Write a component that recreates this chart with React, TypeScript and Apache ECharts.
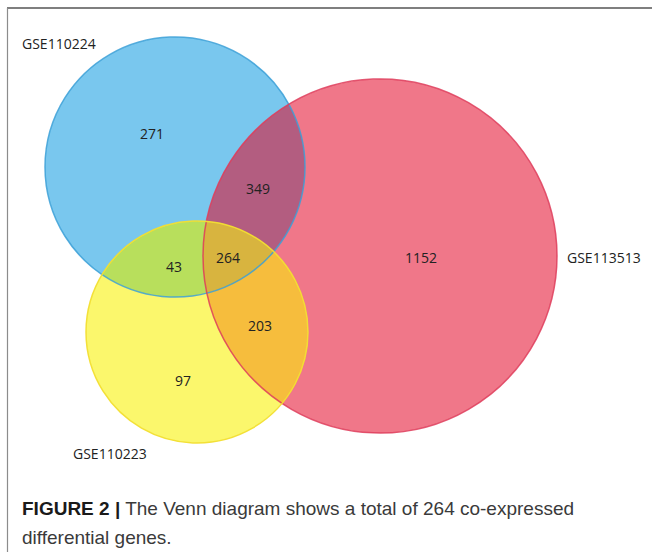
import React, { useEffect, useRef } from "react";
import * as echarts from "echarts";

// ---- data ----
const setNames = ["GSE110224", "GSE113513", "GSE110223"];
// regions: only B, only R, only Y, B∩R, B∩Y, R∩Y, B∩R∩Y
const regionKeys = ["B", "R", "Y", "BR", "BY", "RY", "BRY"];
const regionCounts = [271, 1152, 97, 349, 43, 203, 264];
const captionBold = "FIGURE 2 |";
const captionLines = [
  " The Venn diagram shows a total of 264 co-expressed",
  "differential genes.",
];

// ---- layout (pixels) ----
type Circle = { cx: number; cy: number; r: number };
const circles: Circle[] = [
  { cx: 175, cy: 167, r: 130 },
  { cx: 380, cy: 256, r: 177 },
  { cx: 197, cy: 332, r: 111 },
];
const setLabelPos: [number, number][] = [
  [22, 43],
  [567, 257],
  [73, 453],
];
const countPos: [number, number][] = [
  [152, 133],
  [421, 257],
  [183, 380],
  [258, 188],
  [174, 266],
  [260, 325],
  [228, 257],
];
const fills = ["#79c7ee", "#f07789", "#fbf76c"];
const strokes = ["rgba(60,160,215,0.85)", "rgba(222,60,90,0.85)", "rgba(242,222,50,0.95)"];
const regionFills: Record<string, string> = {
  BR: "#b35d80",
  BY: "#b8df5c",
  RY: "#f6bd3d",
  BRY: "#d8b43f",
};

type P = [number, number];
function intersect(a: Circle, b: Circle): [P, P] {
  const dx = b.cx - a.cx;
  const dy = b.cy - a.cy;
  const d = Math.hypot(dx, dy);
  const l = (a.r * a.r - b.r * b.r + d * d) / (2 * d);
  const h = Math.sqrt(Math.max(0, a.r * a.r - l * l));
  const mx = a.cx + (l * dx) / d;
  const my = a.cy + (l * dy) / d;
  return [
    [mx + (h * dy) / d, my - (h * dx) / d],
    [mx - (h * dy) / d, my + (h * dx) / d],
  ];
}
function inside(p: P, c: Circle) {
  return Math.hypot(p[0] - c.cx, p[1] - c.cy) < c.r;
}
function arc(from: P, to: P, c: Circle) {
  const dx = to[0] - from[0];
  const dy = to[1] - from[1];
  const side = (c.cx - from[0]) * -dy + (c.cy - from[1]) * dx;
  const sweep = side > 0 ? 1 : 0;
  return `A ${c.r} ${c.r} 0 0 ${sweep} ${to[0].toFixed(2)} ${to[1].toFixed(2)}`;
}
function lensPath(a: Circle, b: Circle) {
  const [p1, p2] = intersect(a, b);
  return `M ${p1[0].toFixed(2)} ${p1[1].toFixed(2)} ${arc(p1, p2, a)} ${arc(p2, p1, b)} Z`;
}
function triplePath(B: Circle, R: Circle, Y: Circle) {
  const vBR = intersect(B, R).find((p) => inside(p, Y))!;
  const vBY = intersect(B, Y).find((p) => inside(p, R))!;
  const vRY = intersect(R, Y).find((p) => inside(p, B))!;
  return `M ${vBR[0].toFixed(2)} ${vBR[1].toFixed(2)} ${arc(vBR, vBY, B)} ${arc(vBY, vRY, Y)} ${arc(vRY, vBR, R)} Z`;
}

export default function App() {
  const ref = useRef<HTMLDivElement>(null);
  useEffect(() => {
    if (!ref.current) return;
    const [B, R, Y] = circles;
    const paths: Record<string, string> = {
      BR: lensPath(B, R),
      BY: lensPath(B, Y),
      RY: lensPath(R, Y),
      BRY: triplePath(B, R, Y),
    };
    Object.keys(paths).forEach((k) => {
      echarts.graphic.registerShape("venn" + k, echarts.graphic.extendPath(paths[k], {}) as any);
    });

    const chart = echarts.init(ref.current, null, { renderer: "svg" });
    const elements: any[] = [];
    // frame
    elements.push({
      type: "line",
      shape: { x1: 7, y1: 8, x2: 652, y2: 8 },
      style: { stroke: "#555", lineWidth: 1.5 },
    });
    elements.push({
      type: "line",
      shape: { x1: 7.5, y1: 8, x2: 7.5, y2: 552 },
      style: { stroke: "#8c8c8c", lineWidth: 1.2 },
    });
    // base circles
    circles.forEach((c, i) => {
      elements.push({
        type: "circle",
        shape: { cx: c.cx, cy: c.cy, r: c.r },
        style: { fill: fills[i] },
      });
    });
    // overlap regions
    ["BR", "BY", "RY", "BRY"].forEach((k) => {
      elements.push({
        type: "venn" + k,
        x: 0,
        y: 0,
        style: { fill: regionFills[k] },
      });
    });
    // outlines
    circles.forEach((c, i) => {
      elements.push({
        type: "circle",
        shape: { cx: c.cx, cy: c.cy, r: c.r },
        style: { fill: "none", stroke: strokes[i], lineWidth: 1.5 },
      });
    });
    // set labels
    setNames.forEach((name, i) => {
      elements.push({
        type: "text",
        x: setLabelPos[i][0],
        y: setLabelPos[i][1],
        style: {
          text: name,
          font: "14px 'Open Sans'",
          fill: "#222",
          align: "left",
          verticalAlign: "middle",
          textAlign: "left",
          textVerticalAlign: "middle",
        },
      });
    });
    // region counts
    regionKeys.forEach((k, i) => {
      elements.push({
        type: "text",
        x: countPos[i][0],
        y: countPos[i][1],
        style: {
          text: String(regionCounts[i]),
          font: "14px 'Open Sans'",
          fill: "#222",
          align: "center",
          verticalAlign: "middle",
          textAlign: "center",
          textVerticalAlign: "middle",
        },
      });
    });
    // caption
    elements.push({
      type: "text",
      x: 22,
      y: 508,
      style: {
        text: `{b|${captionBold}}${captionLines[0]}`,
        font: "19px 'Liberation Sans'",
        fill: "#3a3a3a",
        verticalAlign: "middle",
        textVerticalAlign: "middle",
        rich: {
          b: { fontWeight: "bold", fontSize: 19, fontFamily: "Liberation Sans", fill: "#1a1a1a", color: "#1a1a1a" },
        },
      },
    });
    elements.push({
      type: "text",
      x: 22,
      y: 537,
      style: {
        text: captionLines[1],
        font: "19px 'Liberation Sans'",
        fill: "#3a3a3a",
        verticalAlign: "middle",
        textVerticalAlign: "middle",
      },
    });

    chart.setOption({
      animation: false,
      backgroundColor: "#fff",
      graphic: { elements },
    });
    return () => chart.dispose();
  }, []);
  return (
    <div
      ref={ref}
      style={{ position: "absolute", left: 0, top: 0, width: 652, height: 552 }}
    />
  );
}
